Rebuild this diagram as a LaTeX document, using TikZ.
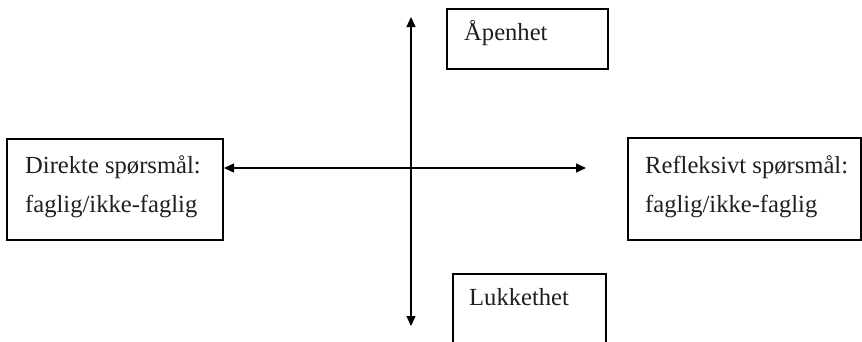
\documentclass[tikz,border=0pt]{standalone}
\usepackage{fontspec}
\setmainfont{Liberation Serif}
\usetikzlibrary{arrows.meta}
\tikzset{
  boxframe/.style={draw=black, line width=1.4pt},
  axisline/.style={line width=1.3pt, {Triangle[length=10pt,width=9pt]}-{Triangle[length=10pt,width=9pt]}},
  label/.style={anchor=base west, inner sep=0pt, font=\fontsize{24.6}{36}\selectfont, text=black!88}
}
\begin{document}
\begin{tikzpicture}[x=1pt,y=-1pt]
\useasboundingbox (0,0) rectangle (862,341);
\clip (0,0) rectangle (862,341);
% boxes
\draw[boxframe] (447,9) rectangle (608,69);
\draw[boxframe] (7,139) rectangle (223,240);
\draw[boxframe] (628,138) rectangle (861,240);
\draw[boxframe] (453,274) rectangle (606,360);
% texts
\node[label] (open) at (464,40) {Åpenhet};
\node[label] (dir1) at (25,173) {Direkte spørsmål:};
\node[label] (dir2) at (25,212) {faglig/ikke-faglig};
\node[label] (ref1) at (645,173) {Refleksivt spørsmål:};
\node[label] (ref2) at (645,212) {faglig/ikke-faglig};
\node[label] (closed) at (469,305) {Lukkethet};
% axes
\coordinate (vtop) at (411,17);
\coordinate (vbot) at (411,326);
\coordinate (hleft) at (224,168);
\coordinate (hright) at (586,168);
\draw[axisline] (vtop) -- (vbot);
\draw[axisline] (hleft) -- (hright);
\end{tikzpicture}
\end{document}
